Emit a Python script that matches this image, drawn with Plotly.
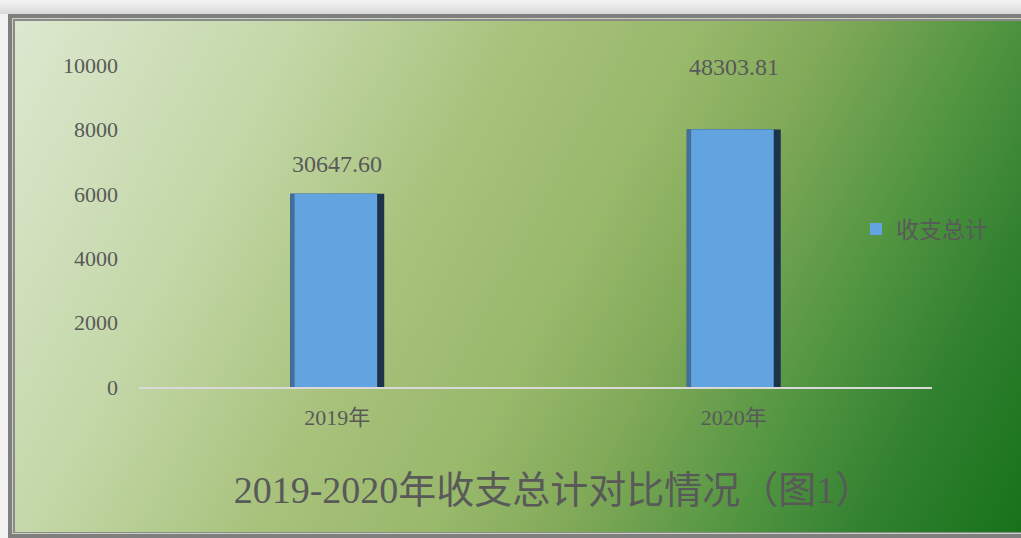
import base64
import plotly.graph_objects as go

# ---- data ----
categories = ["2019年", "2020年"]
bar_values = [6000, 8000]
value_labels = ["30647.60", "48303.81"]
series_name = "收支总计"
y_ticks = [0, 2000, 4000, 6000, 8000, 10000]
y_tick_text = ["0", "2000", "4000", "6000", "8000", "10000"]
chart_title = "2019-2020年收支总计对比情况（图1）"

W, H = 1021, 538
L, R, T, B = 139, 89, 65, 151
PW, PH = W - L - R, H - T - B

FONT = "Liberation Serif, Noto Sans CJK SC, serif"
TXT = "#595959"

# background: light outer area, double grey frame, diagonal green gradient
svg = f'''<svg xmlns="http://www.w3.org/2000/svg" width="{W}" height="{H}" viewBox="0 0 {W} {H}">
<defs>
<linearGradient id="g" gradientUnits="userSpaceOnUse" x1="0" y1="0" x2="{W}" y2="{H}">
<stop offset="0" stop-color="#dfead3"/>
<stop offset="0.24" stop-color="#c3d7a7"/>
<stop offset="0.41" stop-color="#a8c27c"/>
<stop offset="0.55" stop-color="#98b86a"/>
<stop offset="0.65" stop-color="#80a958"/>
<stop offset="0.78" stop-color="#509440"/>
<stop offset="0.88" stop-color="#308030"/>
<stop offset="1" stop-color="#177219"/>
</linearGradient>
<linearGradient id="top" x1="0" y1="0" x2="0" y2="1">
<stop offset="0" stop-color="#f4f4f4"/>
<stop offset="1" stop-color="#d9d9d9"/>
</linearGradient>
</defs>
<rect x="0" y="0" width="{W}" height="{H}" fill="#f2f2f2"/>
<rect x="0" y="0" width="{W}" height="14" fill="url(#top)"/>
<rect x="8" y="14" width="{W}" height="{H}" fill="#7f7f7f"/>
<rect x="12" y="18" width="{W}" height="{H-18-4}" fill="#c9d3bf"/>
<rect x="13" y="19" width="{W}" height="{H-19-5}" fill="#8a8a8a"/>
<rect x="15" y="21" width="{W}" height="{H-21-6}" fill="url(#g)"/>
</svg>'''
src = "data:image/svg+xml;base64," + base64.b64encode(svg.encode("utf-8")).decode("ascii")

# bevelled bar look: dark shell, medium left edge, light face (all from the same data)
BW = 0.237
layers = [
    dict(width=BW, offset=-BW / 2, color="#1d3349", legend=False),
    dict(width=BW - 0.018, offset=-BW / 2, color="#41709c", legend=False),
    dict(width=BW - 0.029, offset=-BW / 2 + 0.011, color="#62a4df", legend=True),
]
fig = go.Figure()
for ly in layers:
    fig.add_trace(go.Bar(
        x=categories, y=bar_values, name=series_name,
        width=ly["width"], offset=ly["offset"],
        marker=dict(color=ly["color"], line=dict(width=0)),
        showlegend=ly["legend"], hoverinfo="skip" if not ly["legend"] else None,
    ))

# label offsets above the bar tops (pixels), as placed in the original chart
label_shifts = [15, 47]
for c, v, lab, s in zip(categories, bar_values, value_labels, label_shifts):
    fig.add_annotation(x=c, y=v, text=lab, showarrow=False, yanchor="bottom",
                       yshift=s, font=dict(family=FONT, size=24, color=TXT))

fig.add_layout_image(dict(
    source=src, xref="paper", yref="paper",
    x=-L / PW, y=1 + T / PH, sizex=W / PW, sizey=H / PH,
    xanchor="left", yanchor="top", sizing="stretch", layer="below",
))

fig.update_layout(
    width=W, height=H,
    margin=dict(l=L, r=R, t=T, b=B, pad=0),
    paper_bgcolor="#f2f2f2",
    plot_bgcolor="rgba(0,0,0,0)",
    barmode="overlay",
    title=dict(text=chart_title, x=553.5 / W, xanchor="center",
               y=1 - 490 / H, yanchor="middle",
               font=dict(family=FONT, size=38, color=TXT)),
    legend=dict(x=(856 - L) / PW, y=(387 - 229) / PH, xanchor="left", yanchor="middle",
                bgcolor="rgba(0,0,0,0)", font=dict(family=FONT, size=23, color=TXT)),
    xaxis=dict(showline=True, linecolor="#d9d9d9", linewidth=2, showgrid=False,
               ticks="", ticklabelstandoff=10,
               tickfont=dict(family=FONT, size=22, color=TXT), fixedrange=True),
    yaxis=dict(range=[0, 10000], tickvals=y_ticks, ticktext=y_tick_text,
               showgrid=False, zeroline=False,
               showline=False, ticks="", ticklabelstandoff=20,
               tickfont=dict(family=FONT, size=22, color=TXT), fixedrange=True),
)

fig.write_html(
    "out.html",
    config={"displayModeBar": False},
    post_script="document.body.style.margin='0';document.body.style.overflow='hidden';"
                "document.documentElement.style.overflow='hidden';",
)
